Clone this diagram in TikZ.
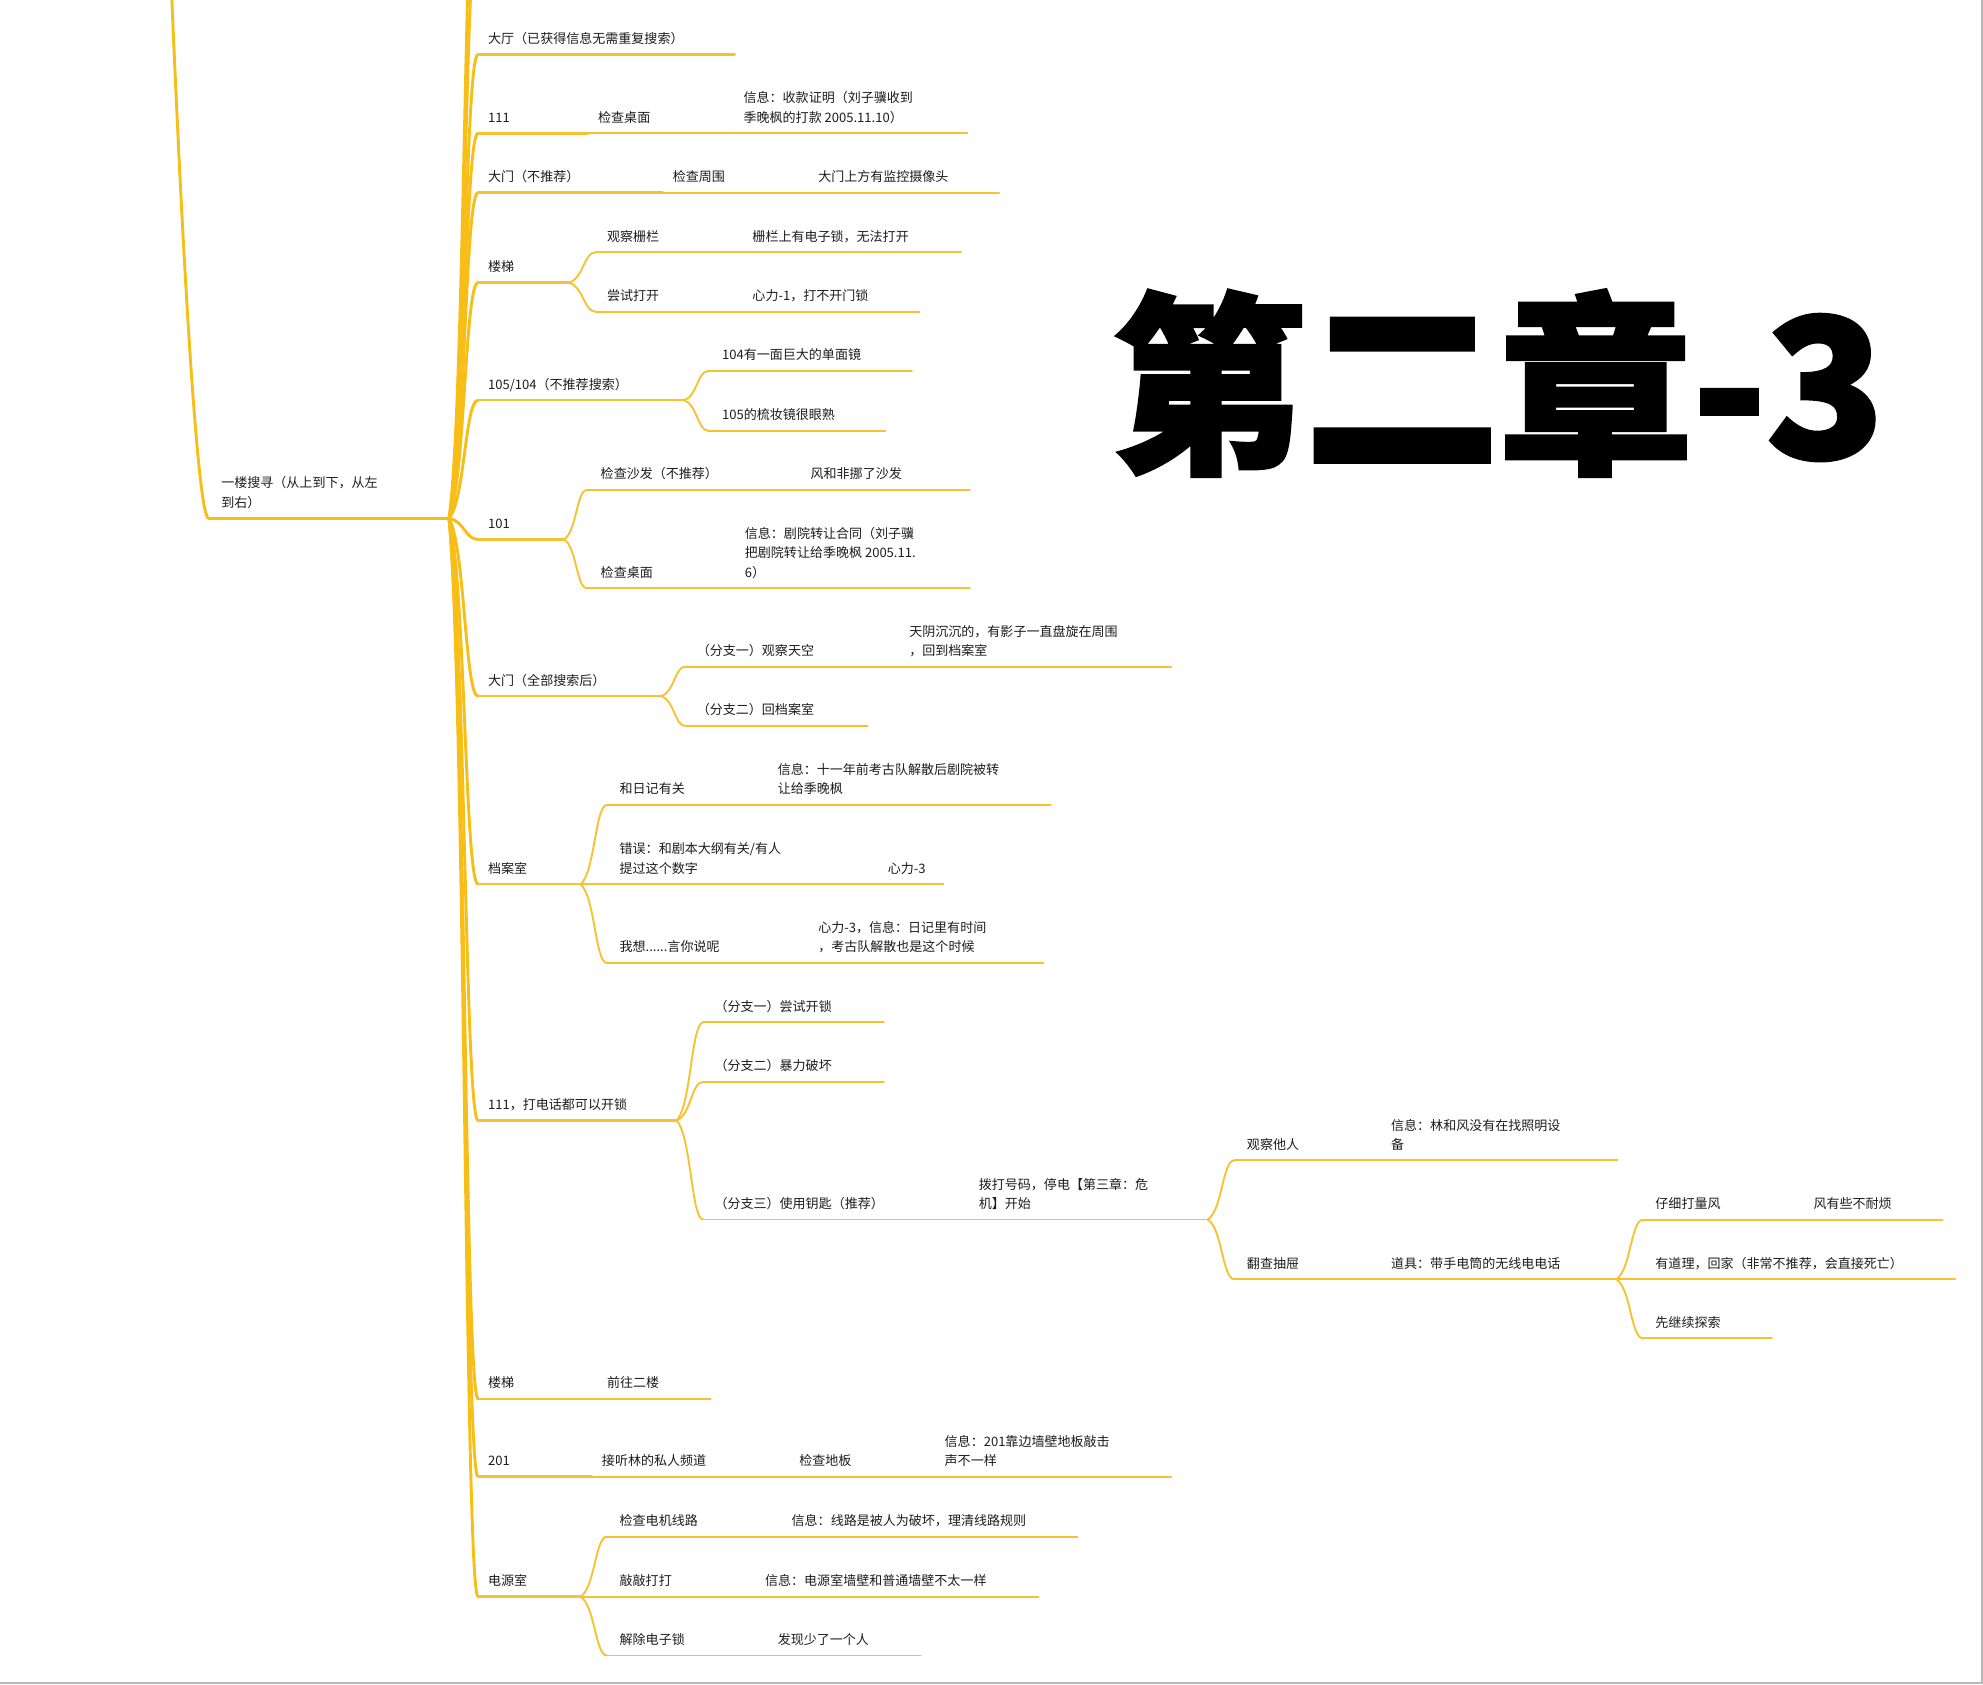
\documentclass[tikz,border=0pt]{standalone}
\usepackage{fontspec}
\setmainfont{Noto Sans CJK SC}
\newfontfamily\ttlfont{Noto Sans CJK SC}[BoldFeatures={FakeBold=2}]
\usetikzlibrary{calc}
\definecolor{ycol}{RGB}{246,194,52}
\definecolor{ytrunk}{RGB}{248,190,24}
\definecolor{tcol}{RGB}{28,28,28}
\definecolor{edgegray}{RGB}{185,185,185}
\newcommand\mmtext[1]{\begin{tabular}[b]{@{}l@{}}#1\end{tabular}}
\newcommand\mmnode[4]{\node[mt] (#1) at (#2,{#3-8.8}) {\mmtext{#4}};}
\begin{document}
\begin{tikzpicture}[x=1pt,y=-1pt,
  mt/.style={anchor=base west, inner sep=0pt, outer sep=0pt, text=tcol, font=\fontsize{10.3}{15.2}\selectfont},
  ul1/.style={draw=ytrunk, line width=2.3pt, line cap=round},
  ul2/.style={draw=ycol, line width=1.9pt, line cap=round},
  ul3/.style={draw=ycol, line width=1.5pt, line cap=round},
  br/.style={to path={let \p1=(\tikztostart), \p2=(\tikztotarget) in .. controls ({\x1+0.55*(\x2-\x1)},{\y1+0.15*(\y2-\y1)}) and ({\x1+0.55*(\x2-\x1)},\y2) .. (\tikztotarget)}},
]
\useasboundingbox (0,0) rectangle (1568,1331.6);
\clip (0,0) rectangle (1568,1331.6);

% ---- title
\node[anchor=base west, inner sep=0pt, font=\ttlfont\bfseries\fontsize{153}{153}\selectfont] (title) at (879,362) {第二章-3};

% ---- level 1
\coordinate (root) at (115,-700);
\coordinate (As) at (165,409.8); \coordinate (Ae) at (355,409.8);
\draw[ul1] (root) .. controls (124,-200) and (150,409.8) .. (As);
\draw[ul1] (As) -- (Ae);
\mmnode{A}{175}{409.8}{一楼搜寻（从上到下，从左\\到右）}

% ---- off-canvas siblings above
\coordinate (P1s) at (378,-60);
\coordinate (P2s) at (378,-150);
\draw[ul1] (Ae) to[br] (P1s);
\draw[ul1] (Ae) to[br] (P2s);

% ---- 大厅
\coordinate (B1s) at (378,43); \coordinate (B1e) at (581,43);
\draw[ul1] (Ae) to[br] (B1s); \draw[ul2] (B1s) -- (B1e);
\mmnode{B1}{386}{43}{大厅（已获得信息无需重复搜索）}

% ---- 111
\coordinate (B2s) at (378,105.4); \coordinate (B2e) at (465,105.4);
\coordinate (B2ae) at (580,105.4); \coordinate (B2be) at (765,105.4);
\draw[ul1] (Ae) to[br] (B2s); \draw[ul2] (B2s) -- (B2e);
\draw[ul3] (B2e) -- (B2ae); \draw[ul3] (B2ae) -- (B2be);
\mmnode{B2}{386}{105.4}{111}
\mmnode{B2a}{473}{105.4}{检查桌面}
\mmnode{B2b}{588}{105.4}{信息：收款证明（刘子骥收到\\季晚枫的打款 2005.11.10）}

% ---- 大门（不推荐）
\coordinate (B3s) at (378,152.3); \coordinate (B3e) at (524,152.3);
\coordinate (B3ae) at (639,152.3); \coordinate (B3be) at (790,152.3);
\draw[ul1] (Ae) to[br] (B3s); \draw[ul2] (B3s) -- (B3e);
\draw[ul3] (B3e) -- (B3ae); \draw[ul3] (B3ae) -- (B3be);
\mmnode{B3}{386}{152.3}{大门（不推荐）}
\mmnode{B3a}{532}{152.3}{检查周围}
\mmnode{B3b}{647}{152.3}{大门上方有监控摄像头}

% ---- 楼梯
\coordinate (B4s) at (378,223.5); \coordinate (B4e) at (450,223.5);
\draw[ul1] (Ae) to[br] (B4s); \draw[ul2] (B4s) -- (B4e);
\mmnode{B4}{386}{223.5}{楼梯}
\coordinate (C41s) at (471,199.5); \coordinate (C41e) at (587,199.5); \coordinate (C41ae) at (760,199.5);
\draw[ul3] (B4e) to[br] (C41s); \draw[ul3] (C41s) -- (C41e); \draw[ul3] (C41e) -- (C41ae);
\mmnode{C41}{480}{199.5}{观察栅栏}
\mmnode{C41a}{595}{199.5}{栅栏上有电子锁，无法打开}
\coordinate (C42s) at (471,246.4); \coordinate (C42e) at (587,246.4); \coordinate (C42ae) at (727,246.4);
\draw[ul3] (B4e) to[br] (C42s); \draw[ul3] (C42s) -- (C42e); \draw[ul3] (C42e) -- (C42ae);
\mmnode{C42}{480}{246.4}{尝试打开}
\mmnode{C42a}{595}{246.4}{心力-1，打不开门锁}

% ---- 105/104
\coordinate (B5s) at (378,316.5); \coordinate (B5e) at (541,316.5);
\draw[ul1] (Ae) to[br] (B5s); \draw[ul2] (B5s) -- (B5e);
\mmnode{B5}{386}{316.5}{105/104（不推荐搜索）}
\coordinate (C51s) at (560,293.4); \coordinate (C51e) at (721,293.4);
\draw[ul3] (B5e) to[br] (C51s); \draw[ul3] (C51s) -- (C51e);
\mmnode{C51}{571}{293.4}{104有一面巨大的单面镜}
\coordinate (C52s) at (560,340.5); \coordinate (C52e) at (700,340.5);
\draw[ul3] (B5e) to[br] (C52s); \draw[ul3] (C52s) -- (C52e);
\mmnode{C52}{571}{340.5}{105的梳妆镜很眼熟}

% ---- 101
\coordinate (B6s) at (378,426.5); \coordinate (B6e) at (446,426.5);
\draw[ul1] (Ae) to[br] (B6s); \draw[ul2] (B6s) -- (B6e);
\mmnode{B6}{386}{426.5}{101}
\coordinate (C61s) at (464,387.5); \coordinate (C61e) at (633,387.5); \coordinate (C61ae) at (767,387.5);
\draw[ul3] (B6e) to[br] (C61s); \draw[ul3] (C61s) -- (C61e); \draw[ul3] (C61e) -- (C61ae);
\mmnode{C61}{475}{387.5}{检查沙发（不推荐）}
\mmnode{C61a}{641}{387.5}{风和非挪了沙发}
\coordinate (C62s) at (464,465.2); \coordinate (C62e) at (581,465.2); \coordinate (C62ae) at (767,465.2);
\draw[ul3] (B6e) to[br] (C62s); \draw[ul3] (C62s) -- (C62e); \draw[ul3] (C62e) -- (C62ae);
\mmnode{C62}{475}{465.2}{检查桌面}
\mmnode{C62a}{589}{465.2}{信息：剧院转让合同（刘子骥\\把剧院转让给季晚枫 2005.11.\\6）}

% ---- 大门（全部搜索后）
\coordinate (B7s) at (378,550.5); \coordinate (B7e) at (523,550.5);
\draw[ul1] (Ae) to[br] (B7s); \draw[ul2] (B7s) -- (B7e);
\mmnode{B7}{386}{550.5}{大门（全部搜索后）}
\coordinate (C71s) at (542,527.1); \coordinate (C71e) at (711,527.1); \coordinate (C71ae) at (926,527.1);
\draw[ul3] (B7e) to[br] (C71s); \draw[ul3] (C71s) -- (C71e); \draw[ul3] (C71e) -- (C71ae);
\mmnode{C71}{551}{527.1}{（分支一）观察天空}
\mmnode{C71a}{719}{527.1}{天阴沉沉的，有影子一直盘旋在周围\\，回到档案室}
\coordinate (C72s) at (542,574); \coordinate (C72e) at (686,574);
\draw[ul3] (B7e) to[br] (C72s); \draw[ul3] (C72s) -- (C72e);
\mmnode{C72}{551}{574}{（分支二）回档案室}

% ---- 档案室
\coordinate (B8s) at (378,699.2); \coordinate (B8e) at (459,699.2);
\draw[ul1] (Ae) to[br] (B8s); \draw[ul2] (B8s) -- (B8e);
\mmnode{B8}{386}{699.2}{档案室}
\coordinate (C81s) at (480,636.5); \coordinate (C81e) at (607,636.5); \coordinate (C81ae) at (831,636.5);
\draw[ul3] (B8e) to[br] (C81s); \draw[ul3] (C81s) -- (C81e); \draw[ul3] (C81e) -- (C81ae);
\mmnode{C81}{490}{636.5}{和日记有关}
\mmnode{C81a}{615}{636.5}{信息：十一年前考古队解散后剧院被转\\让给季晚枫}
\coordinate (C82s) at (480,699.2); \coordinate (C82e) at (694,699.2); \coordinate (C82ae) at (746,699.2);
\draw[ul3] (B8e) -- (C82s); \draw[ul3] (C82s) -- (C82e); \draw[ul3] (C82e) -- (C82ae);
\mmnode{C82}{490}{699.2}{错误：和剧本大纲有关/有人\\提过这个数字}
\mmnode{C82a}{702}{699.2}{心力-3}
\coordinate (C83s) at (480,761.5); \coordinate (C83e) at (639,761.5); \coordinate (C83ae) at (825,761.5);
\draw[ul3] (B8e) to[br] (C83s); \draw[ul3] (C83s) -- (C83e); \draw[ul3] (C83e) -- (C83ae);
\mmnode{C83}{490}{761.5}{我想......言你说呢}
\mmnode{C83a}{647}{761.5}{心力-3，信息：日记里有时间\\，考古队解散也是这个时候}

% ---- 111，打电话都可以开锁
\coordinate (B9s) at (378,886); \coordinate (B9e) at (535,886);
\draw[ul1] (Ae) to[br] (B9s); \draw[ul2] (B9s) -- (B9e);
\mmnode{B9}{386}{886}{111，打电话都可以开锁}
\coordinate (C91s) at (556,808.4); \coordinate (C91e) at (699,808.4);
\draw[ul3] (B9e) to[br] (C91s); \draw[ul3] (C91s) -- (C91e);
\mmnode{C91}{565}{808.4}{（分支一）尝试开锁}
\coordinate (C92s) at (556,855.5); \coordinate (C92e) at (699,855.5);
\draw[ul3] (B9e) to[br] (C92s); \draw[ul3] (C92s) -- (C92e);
\mmnode{C92}{565}{855.5}{（分支二）暴力破坏}
\coordinate (C93s) at (556,964.3); \coordinate (C93e) at (766,964.3); \coordinate (C93ae) at (955,964.3);
\draw[ul3] (B9e) to[br] (C93s); \draw[ul3] (C93s) -- (C93e); \draw[ul3] (C93e) -- (C93ae);
\mmnode{C93}{565}{964.3}{（分支三）使用钥匙（推荐）}
\mmnode{C93a}{774}{964.3}{拨打号码，停电【第三章：危\\机】开始}
\coordinate (D1s) at (976,917.5); \coordinate (D1e) at (1092,917.5); \coordinate (D1ae) at (1279,917.5);
\draw[ul3] (C93ae) to[br] (D1s); \draw[ul3] (D1s) -- (D1e); \draw[ul3] (D1e) -- (D1ae);
\mmnode{D1}{986}{917.5}{观察他人}
\mmnode{D1a}{1100}{917.5}{信息：林和风没有在找照明设\\备}
\coordinate (D2s) at (976,1011.5); \coordinate (D2e) at (1092,1011.5); \coordinate (D2ae) at (1278,1011.5);
\draw[ul3] (C93ae) to[br] (D2s); \draw[ul3] (D2s) -- (D2e); \draw[ul3] (D2e) -- (D2ae);
\mmnode{D2}{986}{1011.5}{翻查抽屉}
\mmnode{D2a}{1100}{1011.5}{道具：带手电筒的无线电电话}
\coordinate (E1s) at (1299,964.5); \coordinate (E1e) at (1426,964.5); \coordinate (E1ae) at (1536,964.5);
\draw[ul3] (D2ae) to[br] (E1s); \draw[ul3] (E1s) -- (E1e); \draw[ul3] (E1e) -- (E1ae);
\mmnode{E1}{1309}{964.5}{仔细打量风}
\mmnode{E1a}{1434}{964.5}{风有些不耐烦}
\coordinate (E2s) at (1299,1011.5); \coordinate (E2e) at (1546,1011.5);
\draw[ul3] (D2ae) -- (E2s); \draw[ul3] (E2s) -- (E2e);
\mmnode{E2}{1309}{1011.5}{有道理，回家（非常不推荐，会直接死亡）}
\coordinate (E3s) at (1299,1058.2); \coordinate (E3e) at (1401,1058.2);
\draw[ul3] (D2ae) to[br] (E3s); \draw[ul3] (E3s) -- (E3e);
\mmnode{E3}{1309}{1058.2}{先继续探索}

% ---- 楼梯 (二楼)
\coordinate (B10s) at (378,1106); \coordinate (B10e) at (472,1106); \coordinate (B10ae) at (562,1106);
\draw[ul1] (Ae) to[br] (B10s); \draw[ul2] (B10s) -- (B10e); \draw[ul3] (B10e) -- (B10ae);
\mmnode{B10}{386}{1106}{楼梯}
\mmnode{B10a}{480}{1106}{前往二楼}

% ---- 201
\coordinate (B11s) at (378,1167.6); \coordinate (B11e) at (468,1167.6);
\coordinate (B11ae) at (624,1167.6); \coordinate (B11be) at (739,1167.6); \coordinate (B11ce) at (926,1167.6);
\draw[ul1] (Ae) to[br] (B11s); \draw[ul2] (B11s) -- (B11e);
\draw[ul3] (B11e) -- (B11ae); \draw[ul3] (B11ae) -- (B11be); \draw[ul3] (B11be) -- (B11ce);
\mmnode{B11}{386}{1167.6}{201}
\mmnode{B11a}{476}{1167.6}{接听林的私人频道}
\mmnode{B11b}{632}{1167.6}{检查地板}
\mmnode{B11c}{747}{1167.6}{信息：201靠边墙壁地板敲击\\声不一样}

% ---- 电源室
\coordinate (B12s) at (378,1262.5); \coordinate (B12e) at (459,1262.5);
\draw[ul1] (Ae) to[br] (B12s); \draw[ul2] (B12s) -- (B12e);
\mmnode{B12}{386}{1262.5}{电源室}
\coordinate (C121s) at (480,1215); \coordinate (C121e) at (618,1215); \coordinate (C121ae) at (852,1215);
\draw[ul3] (B12e) to[br] (C121s); \draw[ul3] (C121s) -- (C121e); \draw[ul3] (C121e) -- (C121ae);
\mmnode{C121}{490}{1215}{检查电机线路}
\mmnode{C121a}{626}{1215}{信息：线路是被人为破坏，理清线路规则}
\coordinate (C122s) at (480,1262.5); \coordinate (C122e) at (597,1262.5); \coordinate (C122ae) at (821,1262.5);
\draw[ul3] (B12e) -- (C122s); \draw[ul3] (C122s) -- (C122e); \draw[ul3] (C122e) -- (C122ae);
\mmnode{C122}{490}{1262.5}{敲敲打打}
\mmnode{C122a}{605}{1262.5}{信息：电源室墙壁和普通墙壁不太一样}
\coordinate (C123s) at (480,1309); \coordinate (C123e) at (607,1309); \coordinate (C123ae) at (728,1309);
\draw[ul3] (B12e) to[br] (C123s); \draw[ul3] (C123s) -- (C123e); \draw[ul3] (C123e) -- (C123ae);
\mmnode{C123}{490}{1309}{解除电子锁}
\mmnode{C123a}{615}{1309}{发现少了一个人}

% ---- frame edges
\draw[edgegray, line width=1.6pt] (1567.3,0) -- (1567.3,1330.8) -- (0,1330.8);
\end{tikzpicture}
\end{document}
